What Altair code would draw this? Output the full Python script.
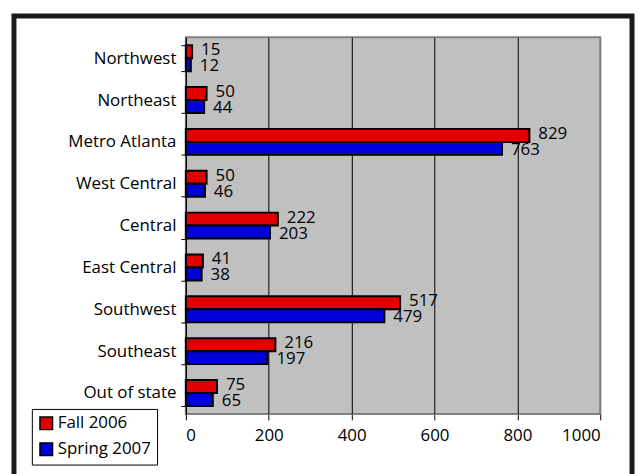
import altair as alt
import pandas as pd

regions = ["Northwest", "Northeast", "Metro Atlanta", "West Central", "Central",
           "East Central", "Southwest", "Southeast", "Out of state"]
fall_2006 = [15, 50, 829, 50, 222, 41, 517, 216, 75]
spring_2007 = [12, 44, 763, 46, 203, 38, 479, 197, 65]
series = ["Fall 2006", "Spring 2007"]
colors = ["#e00000", "#0000d8"]
x_ticks = [0, 200, 400, 600, 800, 1000]

rows = []
for r, f, s in zip(regions, fall_2006, spring_2007):
    rows.append({"region": r, "series": series[0], "value": f})
    rows.append({"region": r, "series": series[1], "value": s})
df = pd.DataFrame(rows)

FONT = "Open Sans"
FS = 17

y_enc = alt.Y("region:N", sort=regions, title=None,
              scale=alt.Scale(paddingInner=0.38, paddingOuter=0.19),
              axis=alt.Axis(tickBand="extent", tickSize=5, tickColor="black",
                            domainColor="black", labelPadding=5,
                            labelFont=FONT, labelFontSize=FS, labelColor="black",
                            grid=False))
yoff = alt.YOffset("series:N", sort=series)

base = alt.Chart(df)

bars = base.mark_bar(stroke="black", strokeWidth=2).encode(
    x=alt.X("value:Q", title=None,
            scale=alt.Scale(domain=[0, 1000], nice=False),
            axis=alt.Axis(values=x_ticks, format="d", tickSize=6, tickColor="black",
                          domainColor="#808080", labelPadding=8,
                          labelFont=FONT, labelFontSize=FS, labelColor="black",
                          grid=True, gridWidth=1,
                          gridColor={"condition": {"test": "datum.value === 1000",
                                                   "value": "#808080"},
                                     "value": "black"})),
    y=y_enc,
    yOffset=yoff,
    color=alt.Color("series:N", sort=series,
                    scale=alt.Scale(domain=series, range=colors),
                    legend=alt.Legend(title=None, orient="none", legendX=-155, legendY=374,
                                      symbolType="square", symbolSize=160,
                                      symbolStrokeColor="black", symbolStrokeWidth=1.5,
                                      labelFont=FONT, labelFontSize=FS, labelColor="black",
                                      strokeColor="black", fillColor="white",
                                      padding=6, rowPadding=7, labelOffset=3)),
)

txt_fall = base.transform_filter(alt.datum.series == series[0]).mark_text(
    align="left", baseline="middle", dx=9, dy=-1.5, font=FONT, fontSize=FS, color="black"
).encode(x="value:Q", y=alt.Y("region:N", sort=regions), yOffset=yoff, text="value:Q")

txt_spring = base.transform_filter(alt.datum.series == series[1]).mark_text(
    align="left", baseline="middle", dx=9, dy=1.5, font=FONT, fontSize=FS, color="black"
).encode(x="value:Q", y=alt.Y("region:N", sort=regions), yOffset=yoff, text="value:Q")

frame = alt.Chart(pd.DataFrame({"a": [0]})).mark_rect(
    filled=False, stroke="#1a1a1a", strokeWidth=5, clip=False
).encode(x=alt.value(-173), x2=alt.value(449), y=alt.value(-21.5), y2=alt.value(470))

chart = alt.layer(frame, bars, txt_fall, txt_spring).properties(
    width=417, height=379,
    background="white",
    autosize=alt.AutoSizeParams(type="none"),
    padding={"left": 179, "top": 28, "right": 36, "bottom": 59},
).configure_view(fill="#c0c0c0", stroke="#808080", strokeWidth=2)

chart.save("out.html", embed_options={"renderer": "svg", "actions": False})
